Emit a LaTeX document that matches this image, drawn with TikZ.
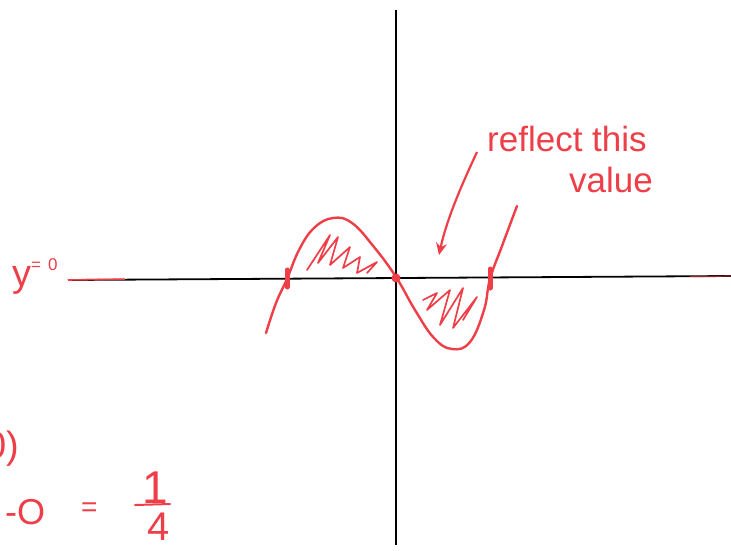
\documentclass[tikz,border=0pt]{standalone}
\usepackage{fontspec}
\setmainfont{Liberation Sans}
\usetikzlibrary{arrows.meta}
\definecolor{pen}{RGB}{238,62,72}
\begin{document}
\begin{tikzpicture}[x=1pt,y=-1pt,
  axis/.style={draw=black,line width=1.8pt},
  penline/.style={draw=pen,line width=2.4pt,line cap=round,line join=round},
  hatch/.style={draw=pen,line width=1.7pt,line cap=round,line join=round},
  blob/.style={draw=pen,line width=5pt,line cap=round},
  pentext/.style={text=pen,inner sep=0pt}]
\useasboundingbox (0,0) rectangle (731,550);
% axes
\coordinate (xl) at (68,280);
\coordinate (xr) at (731,276);
\coordinate (yt) at (396,10);
\coordinate (yb) at (396,545);
\draw[axis] (xl) -- (xr);
\draw[axis] (yt) -- (yb);
\coordinate (rl) at (125,279.1);
\draw[draw=pen,line width=1.6pt] (xl) -- (rl);
\coordinate (rr1) at (690,276.6);
\draw[draw=pen,line width=1.2pt,opacity=0.6] (rr1) -- (xr);
% curve
\draw[penline] plot[smooth,tension=0.7] coordinates {
 (266,333) (276,303) (287,279) (299,250) (314,228) (333,218) (352,223)
 (374,247) (396,277) (415,310) (434,338) (452,349) (470,342) (484,310)
 (490,279) (502,246) (517,206)};
% crossing marks
\coordinate (c1) at (287,279);
\coordinate (c2) at (396,278);
\coordinate (c3) at (490,279);
\draw[blob] ([yshift=-8pt]c1) -- ([yshift=9pt]c1);
\draw[blob] ([yshift=-9pt]c3) -- ([yshift=10pt]c3);
\fill[pen] (c2) circle (4.5pt);
% hatching
\draw[hatch] (307,270) -- (330,235) -- (318,263) -- (338,237) -- (330,265)
  -- (350,247) -- (343,268) -- (360,257) -- (357,273) -- (377,262) -- (367,273);
\draw[hatch] (423,300) -- (437,293) -- (427,310) -- (450,290) -- (440,325)
  -- (463,288) -- (453,328) -- (477,297) -- (463,320);
% labels
\node[pentext,font=\fontsize{35}{38}\selectfont,anchor=base west] (refl) at (487,151) {reflect this};
\node[pentext,font=\fontsize{35}{38}\selectfont,anchor=base west] (val) at (569,192) {value};
\coordinate (as) at (477,152);
\coordinate (tip) at (439,255);
\draw[draw=pen,line width=2.2pt,-{Stealth[length=12pt,width=11pt]}]
  (as) .. controls (463,182) and (447,218) .. (tip);
\node[pentext,font=\fontsize{38}{40}\selectfont,anchor=base west] (yz) at (12,286)
  {y\raisebox{16pt}{\fontsize{17}{20}\selectfont =\hspace{7pt}0}};
% bottom-left equation
\node[pentext,font=\fontsize{38}{40}\selectfont,anchor=base east] (p0) at (19,458) {0)};
\node[pentext,font=\fontsize{36}{40}\selectfont,anchor=base west] (m0) at (5,524) {-O};
\node[pentext,font=\fontsize{28}{30}\selectfont,anchor=base west] (eq) at (81,516) {=};
\node[pentext,font=\fontsize{46}{48}\selectfont,anchor=base] (n1) at (155,503) {1};
\node[pentext,font=\fontsize{40}{44}\selectfont,anchor=base] (d4) at (159,540) {4};
\draw[draw=pen,line width=2pt,line cap=round] ([xshift=-20pt,yshift=-2pt]n1.base) -- ([xshift=15pt,yshift=-1pt]n1.base);
\end{tikzpicture}
\end{document}
